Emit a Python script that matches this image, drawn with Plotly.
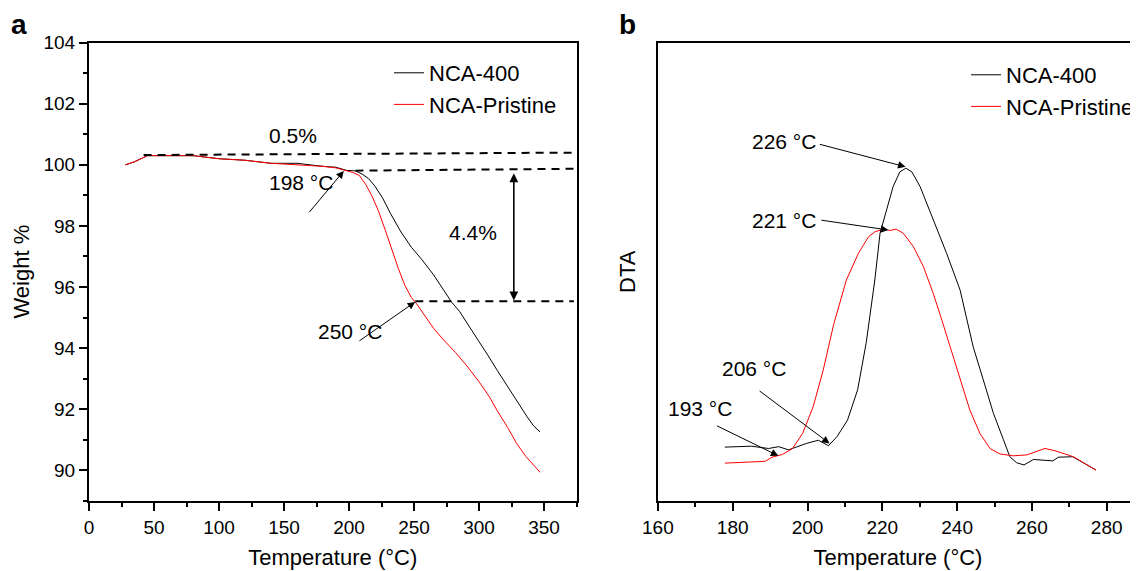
import plotly.graph_objects as go

# page body has an 8px default margin, so the figure is drawn 8px smaller and offset
W, H = 1130, 563
OFF = 8
FONT = "Arial, 'Liberation Sans', Helvetica, sans-serif"

# ---------------- Panel a : TGA ----------------
tga_400_T = [28, 35, 45, 60, 80, 100, 120, 140, 160, 180, 190, 198, 205, 210, 215, 220, 226, 232,
             240, 248, 256, 265, 272, 279, 285, 292, 300, 307, 314, 321, 329, 337, 342, 347]
tga_400_W = [100.0, 100.1, 100.3, 100.3, 100.3, 100.2, 100.15, 100.05, 100.05, 99.95, 99.92, 99.82,
             99.8, 99.7, 99.55, 99.3, 98.9, 98.4, 97.8, 97.3, 96.9, 96.4, 95.95, 95.5, 95.2, 94.75,
             94.2, 93.75, 93.27, 92.8, 92.28, 91.75, 91.45, 91.25]

tga_pr_T = [28, 35, 45, 60, 80, 100, 120, 140, 160, 180, 190, 198, 203, 208, 213, 218, 223, 228,
            233, 238, 243, 248, 252, 258, 265, 272, 282, 290, 300, 308, 314, 322, 329, 336, 341, 347]
tga_pr_W = [100.0, 100.1, 100.3, 100.3, 100.3, 100.2, 100.15, 100.05, 100.0, 99.95, 99.9, 99.8,
            99.75, 99.65, 99.35, 98.95, 98.45, 97.85, 97.2, 96.6, 96.05, 95.65, 95.45, 95.1, 94.65,
            94.3, 93.85, 93.45, 92.9, 92.4, 91.95, 91.4, 90.87, 90.45, 90.2, 89.93]

# guide (dashed) lines of panel a
guide_top_T = [42, 373]
guide_top_W = [100.32, 100.40]
guide_mid_T = [205, 373]
guide_mid_W = [99.81, 99.87]
guide_low_T = [251, 373]
guide_low_W = [95.53, 95.53]

# ---------------- Panel b : DTA ----------------
dta_400_T = [177.9, 185.0, 189.6, 192.3, 194.9, 199.7, 202.9, 205.6, 207.9, 210.7, 213.4, 215.7,
             218.0, 219.4, 222.9, 224.7, 226.3, 227.9, 230.1, 233.6, 237.2, 240.8, 242.6, 244.3,
             247.0, 249.7, 252.4, 254.1, 255.9, 257.9, 260.4, 263.0, 265.6, 267.1, 270.9, 273.7, 277.1]
dta_400_V = [11.7, 11.9, 11.4, 11.8, 11.1, 12.5, 13.2, 12.0, 14.0, 17.6, 24.2, 34.5,
             48.2, 58.4, 68.6, 71.8, 72.6, 71.8, 68.6, 61.3, 54.0, 46.0, 39.5, 33.6,
             26.4, 19.1, 13.3, 9.6, 8.3, 7.8, 9.0, 8.9, 8.7, 9.5, 9.6, 8.3, 6.7]

dta_pr_T = [177.9, 183.2, 188.7, 190.5, 193.3, 196.0, 198.7, 201.5, 204.2, 207.0, 210.4, 213.6,
            216.3, 218.0, 220.3, 222.1, 223.7, 225.6, 228.3, 231.0, 233.6, 235.9, 238.1, 240.8,
            243.4, 246.1, 248.8, 251.5, 255.0, 258.6, 261.3, 263.5, 266.2, 269.3, 271.1, 277.1]
dta_pr_V = [8.2, 8.4, 8.6, 9.5, 10.1, 11.4, 14.7, 20.5, 28.5, 38.5, 48.2, 54.0,
            57.6, 58.7, 59.3, 59.0, 59.3, 58.4, 55.5, 51.1, 45.3, 39.5, 33.6, 26.4,
            19.8, 14.7, 11.4, 10.2, 9.8, 10.0, 10.7, 11.4, 10.9, 10.0, 9.6, 6.7]

x_ticks_a = [0, 50, 100, 150, 200, 250, 300, 350]
y_ticks_a = [90, 92, 94, 96, 98, 100, 102, 104]
x_ticks_b = [160, 180, 200, 220, 240, 260, 280]


def px(x):
    return (x - OFF) / W


def py(y):
    return 1 - (y - OFF) / H


# ---------------- figure ----------------
fig = go.Figure()

fig.add_trace(go.Scatter(x=tga_400_T, y=tga_400_W, mode="lines", name="NCA-400",
                         line=dict(color="black", width=1), legend="legend", xaxis="x", yaxis="y"))
fig.add_trace(go.Scatter(x=tga_pr_T, y=tga_pr_W, mode="lines", name="NCA-Pristine",
                         line=dict(color="#ff0000", width=1), legend="legend", xaxis="x", yaxis="y"))
for gx, gy in [(guide_top_T, guide_top_W), (guide_mid_T, guide_mid_W), (guide_low_T, guide_low_W)]:
    fig.add_trace(go.Scatter(x=gx, y=gy, mode="lines", showlegend=False, hoverinfo="skip",
                             line=dict(color="black", width=2, dash="8px,6px"), xaxis="x", yaxis="y"))

fig.add_trace(go.Scatter(x=dta_400_T, y=dta_400_V, mode="lines", name="NCA-400",
                         line=dict(color="black", width=1), legend="legend2", xaxis="x2", yaxis="y2"))
fig.add_trace(go.Scatter(x=dta_pr_T, y=dta_pr_V, mode="lines", name="NCA-Pristine",
                         line=dict(color="#ff0000", width=1), legend="legend2", xaxis="x2", yaxis="y2"))

ydom = [py(500.7), py(42.7)]
axis_common = dict(showgrid=False, zeroline=False, showline=True, linecolor="black", linewidth=2,
                   ticks="outside", ticklen=8, tickwidth=1.5, tickcolor="black", automargin=False,
                   tickfont=dict(family=FONT, size=19, color="black"))

fig.update_layout(
    template="none",
    width=W, height=H, margin=dict(l=0, r=0, t=0, b=0, pad=0, autoexpand=False),
    paper_bgcolor="white", plot_bgcolor="white",
    font=dict(family=FONT, color="black"),
    xaxis=dict(domain=[px(89), px(576.5)], range=[0, 375], tickvals=x_ticks_a, mirror=True,
               minor=dict(dtick=25, ticks="outside", ticklen=4, tickwidth=1.5, tickcolor="black"),
               title=dict(text="Temperature (°C)", font=dict(size=22), standoff=13),
               anchor="y", **axis_common),
    yaxis=dict(domain=ydom, range=[89, 104], tickvals=y_ticks_a, mirror=True,
               minor=dict(dtick=1, ticks="outside", ticklen=4, tickwidth=1.5, tickcolor="black"),
               title=dict(text="Weight %", font=dict(size=22), standoff=8),
               anchor="x", **axis_common),
    xaxis2=dict(domain=[px(657.9), 1.0], range=[160, 160 + (1138 - 657.9) / 3.74], tickvals=x_ticks_b,
                mirror=True,
                minor=dict(dtick=10, ticks="outside", ticklen=4, tickwidth=1.5, tickcolor="black"),
                title=dict(text="Temperature (°C)", font=dict(size=22), standoff=13),
                anchor="y2", **axis_common),
    yaxis2=dict(domain=ydom, range=[0, 100], showgrid=False, zeroline=False, showline=True,
                linecolor="black", linewidth=2, ticks="", showticklabels=False, mirror=False,
                automargin=False,
                title=dict(text="DTA", font=dict(size=22), standoff=14), anchor="x2"),
    legend=dict(x=px(389), y=py(52), xanchor="left", yanchor="top", bgcolor="rgba(0,0,0,0)",
                font=dict(family=FONT, size=22, color="black"), tracegroupgap=0),
    legend2=dict(x=px(966), y=py(54), xanchor="left", yanchor="top", bgcolor="rgba(0,0,0,0)",
                 font=dict(family=FONT, size=22, color="black"), tracegroupgap=0),
    showlegend=True,
)

ann = []
# panel labels
ann.append(dict(text="<b>a</b>", x=px(19), y=py(25), xref="paper", yref="paper",
                showarrow=False, font=dict(size=28, family=FONT), xanchor="center", yanchor="middle"))
ann.append(dict(text="<b>b</b>", x=px(627), y=py(25), xref="paper", yref="paper",
                showarrow=False, font=dict(size=28, family=FONT), xanchor="center", yanchor="middle"))

# panel a text labels
for txt, tx, ty in [("0.5%", 157.1, 100.97), ("198 °C", 163.1, 99.41),
                    ("4.4%", 295.7, 97.8), ("250 °C", 200.9, 94.55)]:
    ann.append(dict(text=txt, x=tx, y=ty, xref="x", yref="y", showarrow=False,
                    font=dict(size=21, family=FONT), xanchor="center", yanchor="middle"))
# panel a arrows: (head x, head y, tail x, tail y)
for hx, hy, tx, ty in [(196, 99.80, 168.5, 98.40), (250.9, 95.51, 206.8, 94.2)]:
    ann.append(dict(text="", x=hx, y=hy, ax=tx, ay=ty, xref="x", yref="y", axref="x", ayref="y",
                    showarrow=True, arrowhead=2, arrowsize=1.5, arrowwidth=1, arrowcolor="black",
                    standoff=0, startstandoff=0))
# double arrow 4.4%
ann.append(dict(text="", x=326.8, y=95.56, ax=326.8, ay=99.77, xref="x", yref="y", axref="x", ayref="y",
                showarrow=True, arrowhead=2, startarrowhead=2, arrowside="end+start", arrowsize=1.1,
                startarrowsize=1.1, arrowwidth=1.6, arrowcolor="black", standoff=0, startstandoff=0))

# panel b text labels
for txt, tx, ty in [("226 °C", 193.8, 78.4), ("221 °C", 193.8, 61.1),
                    ("206 °C", 185.8, 28.9), ("193 °C", 171.3, 20.2)]:
    ann.append(dict(text=txt, x=tx, y=ty, xref="x2", yref="y2", showarrow=False,
                    font=dict(size=21, family=FONT), xanchor="center", yanchor="middle"))
for hx, hy, tx, ty in [(226.2, 72.9, 202.9, 77.9), (221.6, 59.1, 203.3, 61.3),
                       (205.9, 12.5, 186.8, 24.2), (192.2, 9.8, 175.4, 16.5)]:
    ann.append(dict(text="", x=hx, y=hy, ax=tx, ay=ty, xref="x2", yref="y2", axref="x2", ayref="y2",
                    showarrow=True, arrowhead=2, arrowsize=1.5, arrowwidth=1, arrowcolor="black",
                    standoff=0, startstandoff=0))

fig.update_layout(annotations=ann)

fig.write_html("out.html")
